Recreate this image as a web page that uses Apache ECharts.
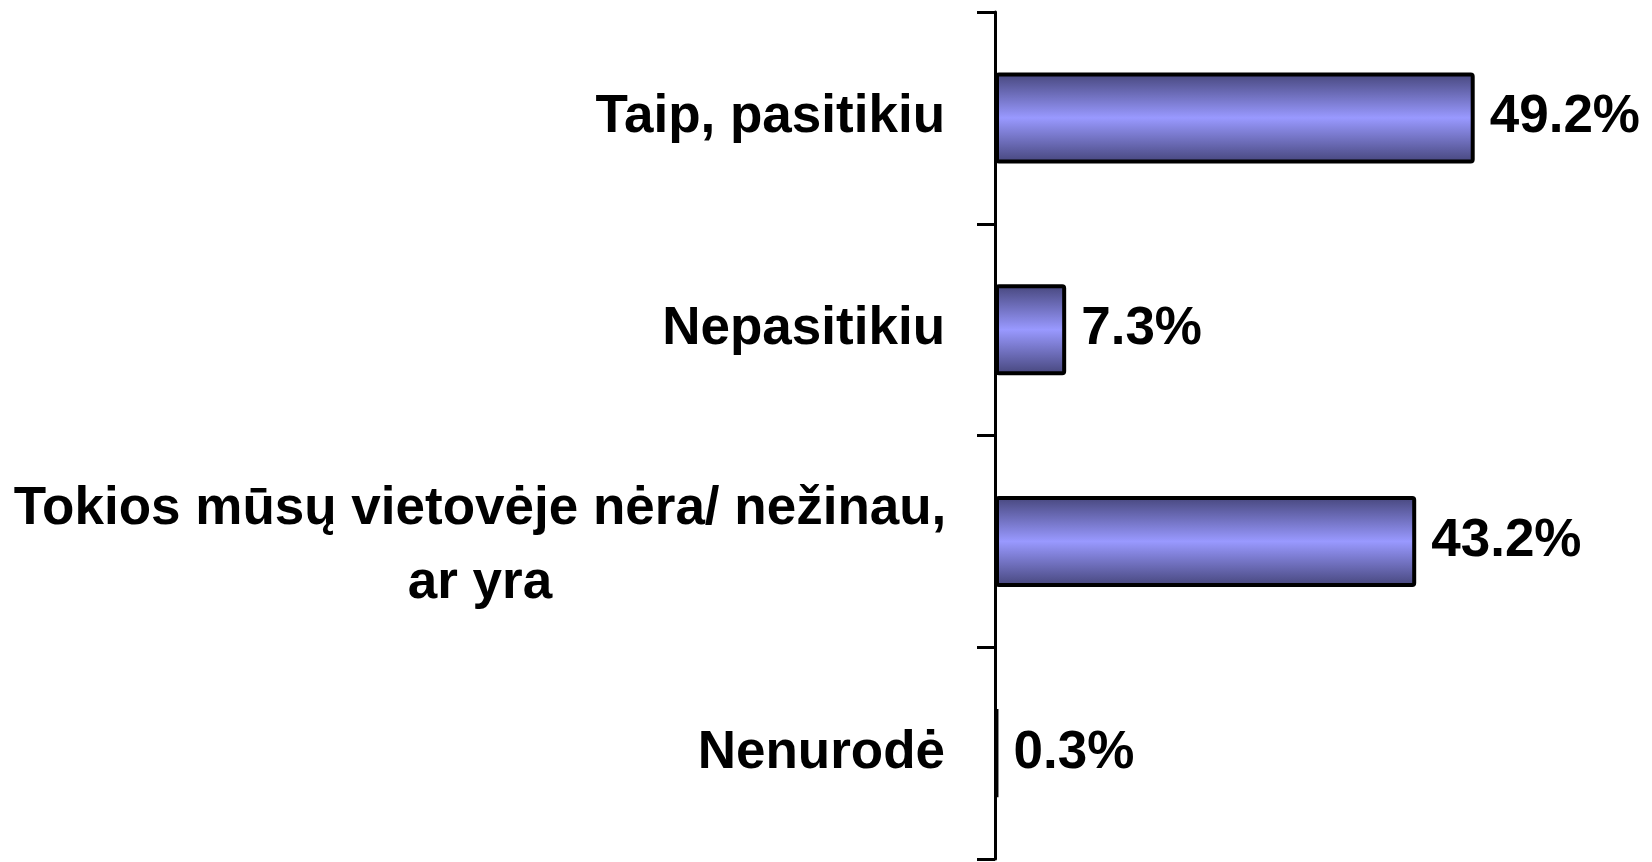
<!DOCTYPE html>
<html>
<head>
<meta charset="utf-8">
<script src="https://cdn.jsdelivr.net/npm/echarts@6/dist/echarts.min.js"></script>
<style>
  html, body { margin: 0; padding: 0; background: #fff; }
  #chart { width: 1652px; height: 862px; }
</style>
</head>
<body>
<div id="chart"></div>
<script>
// atsakymų kategorijos ir procentai
var categories = [
  'Taip, pasitikiu',
  'Nepasitikiu',
  'Tokios mūsų vietovėje nėra/ nežinau,\nar yra',
  'Nenurodė'
];
var values = [49.2, 7.3, 43.2, 0.3];

var chart = echarts.init(document.getElementById('chart'));

var font = 'Liberation Sans, Arial, sans-serif';

chart.setOption({
  animation: false,
  grid: { left: 995, right: 72, top: 12, bottom: 3 },
  xAxis: {
    type: 'value',
    min: 0,
    max: 60,
    show: false
  },
  yAxis: {
    type: 'category',
    inverse: true,
    data: categories,
    axisLine: { lineStyle: { color: '#000', width: 3 } },
    axisTick: { show: true, length: 18, lineStyle: { color: '#000', width: 3 } },
    axisLabel: {
      color: '#000',
      fontFamily: font,
      fontWeight: 'bold',
      fontSize: 53,
      lineHeight: 74,
      align: 'right',
      margin: 50,
      // kelių eilučių pavadinimas centruojamas bloko viduje
      formatter: function (v) {
        if (v.indexOf('\n') < 0) return v;
        return v.split('\n').map(function (s) { return '{c|' + s + '}'; }).join('\n');
      },
      rich: {
        c: {
          width: 930,
          align: 'center',
          color: '#000',
          fontFamily: font,
          fontWeight: 'bold',
          fontSize: 53,
          lineHeight: 74,
          padding: [10, 0, 0, 0]
        }
      }
    }
  },
  series: [{
    type: 'bar',
    data: values,
    barWidth: 91,
    itemStyle: {
      borderColor: '#000',
      borderWidth: 4,
      borderRadius: 2,
      color: new echarts.graphic.LinearGradient(0, 0, 0, 1, [
        { offset: 0, color: '#45457a' },
        { offset: 0.5, color: '#9999ff' },
        { offset: 1, color: '#45457a' }
      ])
    },
    label: {
      show: true,
      position: 'right',
      distance: 15,
      color: '#000',
      fontFamily: font,
      fontWeight: 'bold',
      fontSize: 53,
      formatter: function (p) { return p.value.toFixed(1) + '%'; }
    }
  }]
});
</script>
</body>
</html>
